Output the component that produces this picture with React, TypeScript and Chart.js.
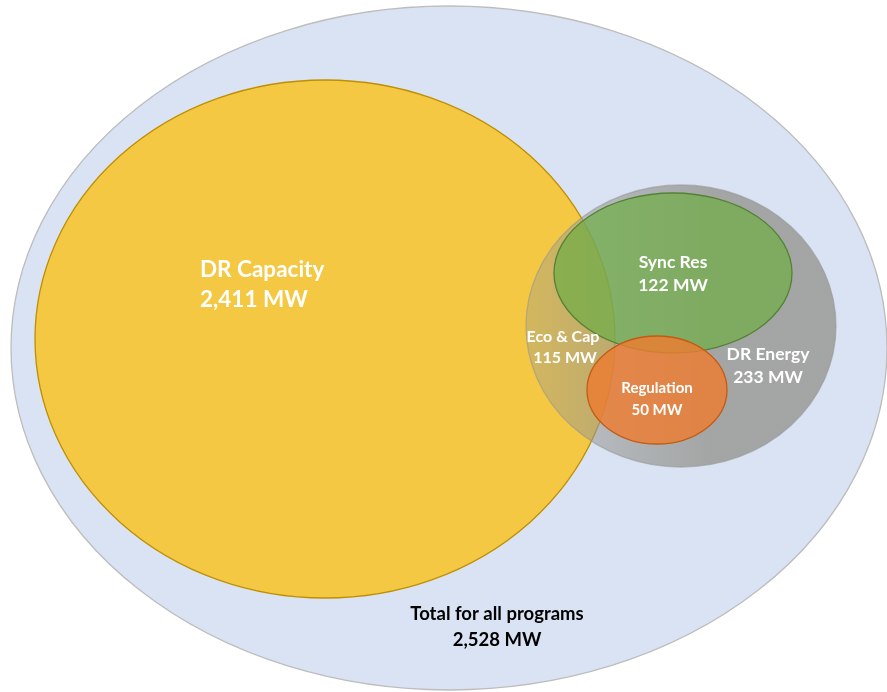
import React, { useEffect, useRef } from "react";
import { Chart, registerables } from "chart.js";

Chart.register(...registerables);

// Ellipses (diagram units: x 0..887, y 0..692 from top)
const programs = ["Total for all programs", "DR Capacity", "DR Energy", "Sync Res", "Regulation"];
const centerX = [449, 325, 681, 673, 657];
const centerY = [348, 339, 326, 273, 390];
const radiusX = [438, 290, 155, 119, 70];
const radiusY = [342, 259, 141, 80, 54];
const values = ["2,528 MW", "2,411 MW", "233 MW", "122 MW", "50 MW"];

// Label anchors
const labelX = [497, 200, 768, 673, 657];
const labelY = [614, 270, 354, 262, 388];

// Overlap label
const overlapName = "Eco & Cap";
const overlapValue = "115 MW";
const overlapX = [563];
const overlapY = [337];

const fills = [
  "#DAE3F3",
  "#F4C842",
  "gray",
  "rgba(112,173,71,0.72)",
  "rgba(237,125,49,0.82)",
];
const borders = ["#BDBDBD", "#BF8F00", "rgba(150,150,150,0.6)", "#548235", "#C55A11"];
const fontSizes = [18.5, 22.5, 17.5, 17.5, 15];
const lineGaps = [26, 30, 23, 23, 22];
const textColors = ["#000000", "#FFFFFF", "#FFFFFF", "#FFFFFF", "#FFFFFF"];
const aligns: CanvasTextAlign[] = ["center", "left", "center", "center", "center"];

const ellipsePlugin = {
  id: "ellipses",
  beforeDatasetsDraw(chart: any) {
    const ctx = chart.ctx as CanvasRenderingContext2D;
    const xs = chart.scales.x;
    const ys = chart.scales.y;
    const ds = chart.data.datasets[0].data as any[];
    ds.forEach((d, i) => {
      const px = xs.getPixelForValue(d.x);
      const py = ys.getPixelForValue(d.y);
      const rx = Math.abs(xs.getPixelForValue(d.x + d.rx) - px);
      const ry = Math.abs(ys.getPixelForValue(d.y + d.ry) - py);
      ctx.save();
      ctx.beginPath();
      ctx.ellipse(px, py, rx, ry, 0, 0, Math.PI * 2);
      if (fills[i] === "gray") {
        const g = ctx.createLinearGradient(px - rx, 0, px + rx, 0);
        g.addColorStop(0, "rgba(150,150,145,0.35)");
        g.addColorStop(0.3, "rgba(150,150,145,0.6)");
        g.addColorStop(0.6, "rgba(150,150,145,0.8)");
        g.addColorStop(1, "rgba(150,150,145,0.8)");
        ctx.fillStyle = g;
      } else {
        ctx.fillStyle = fills[i];
      }
      ctx.fill();
      ctx.lineWidth = 1.3;
      ctx.strokeStyle = borders[i];
      ctx.stroke();
      ctx.restore();
    });
  },
  afterDatasetsDraw(chart: any) {
    const ctx = chart.ctx as CanvasRenderingContext2D;
    const xs = chart.scales.x;
    const ys = chart.scales.y;
    ctx.save();
    ctx.textBaseline = "middle";
    programs.forEach((name, i) => {
      const px = xs.getPixelForValue(labelX[i]);
      const py = ys.getPixelForValue(labelY[i]);
      ctx.font = `bold ${fontSizes[i]}px Lato, "Noto Sans", sans-serif`;
      ctx.fillStyle = textColors[i];
      ctx.textAlign = aligns[i];
      ctx.fillText(name, px, py);
      ctx.fillText(values[i], px, py + lineGaps[i]);
    });
    ctx.font = `bold 16px Lato, "Noto Sans", sans-serif`;
    ctx.fillStyle = "#FFFFFF";
    ctx.textAlign = "center";
    const ox = xs.getPixelForValue(overlapX[0]);
    const oy = ys.getPixelForValue(overlapY[0]);
    ctx.fillText(overlapName, ox, oy);
    ctx.fillText(overlapValue, ox + 2, oy + 21);
    ctx.restore();
  },
};

export default function App() {
  const ref = useRef<HTMLCanvasElement | null>(null);
  useEffect(() => {
    document.body.style.margin = "0";
    const data = programs.map((p, i) => ({
      x: centerX[i],
      y: centerY[i],
      rx: radiusX[i],
      ry: radiusY[i],
    }));
    const chart = new Chart(ref.current as HTMLCanvasElement, {
      type: "scatter",
      data: {
        datasets: [
          {
            label: "Programs",
            data: data as any,
            pointRadius: 0,
            pointHoverRadius: 0,
          },
        ],
      },
      options: {
        animation: false,
        responsive: false,
        maintainAspectRatio: false,
        layout: { padding: 0 },
        plugins: {
          legend: { display: false },
          tooltip: { enabled: false },
        },
        events: [],
        scales: {
          x: { type: "linear", min: 0, max: 887, display: false },
          y: { type: "linear", min: 0, max: 692, reverse: true, display: false },
        },
      },
      plugins: [ellipsePlugin],
    });
    return () => chart.destroy();
  }, []);
  return (
    <div style={{ width: 887, height: 692, background: "#FFFFFF" }}>
      <canvas ref={ref} width={887} height={692} style={{ display: "block" }} />
    </div>
  );
}
